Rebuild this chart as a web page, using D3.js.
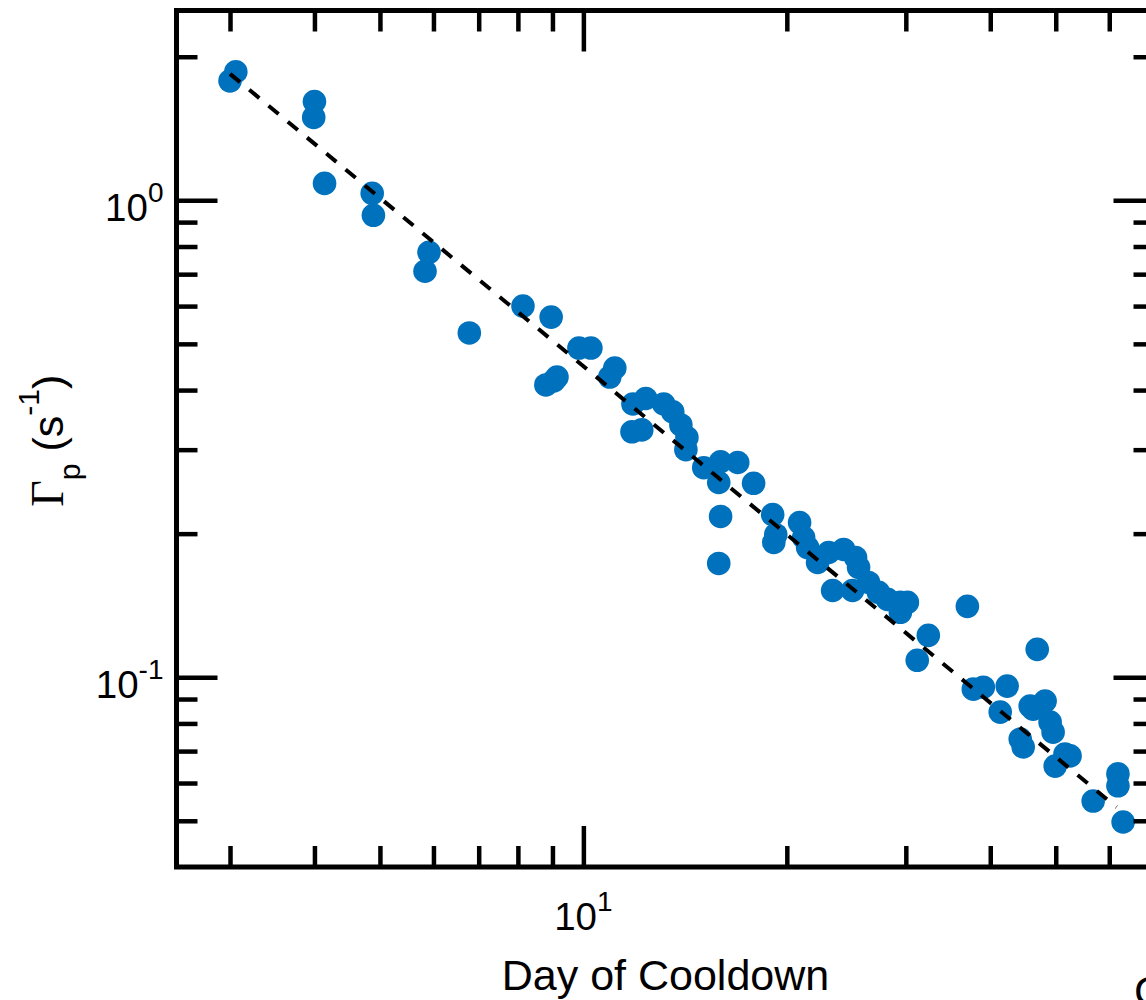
<!DOCTYPE html>
<html><head><meta charset="utf-8">
<script src="https://cdn.jsdelivr.net/npm/d3@7"></script>
<style>body{margin:0;background:#fff;} svg{display:block;}</style>
</head><body>
<script>
// ---- data ----
const days = [3.0, 3.06, 4.0, 3.99, 4.14, 4.87, 4.89, 5.91, 5.83, 6.78, 8.14, 8.96, 9.85, 10.26, 11.13, 10.94, 8.80, 9.14, 9.04, 11.84, 12.37, 11.8, 12.2, 13.15, 13.56, 13.94, 14.23, 14.18, 15.07, 15.96, 16.92, 15.86, 17.86, 15.96, 15.86, 19.06, 19.26, 19.13, 20.89, 21.18, 21.47, 22.21, 23.06, 24.27, 25.28, 25.54, 23.38, 25.02, 26.42, 27.33, 28.18, 29.45, 30.16, 29.45, 37.0, 32.39, 31.19, 46.94, 37.76, 39.06, 42.38, 41.38, 45.83, 48.22, 49.05, 49.55, 44.3, 44.75, 46.3, 51.6, 49.9, 52.5, 61.8, 61.8, 56.8, 62.9];
const gamma = [1.78, 1.86, 1.611, 1.492, 1.085, 1.034, 0.930, 0.778, 0.710, 0.527, 0.600, 0.569, 0.490, 0.490, 0.445, 0.426, 0.410, 0.426, 0.418, 0.374, 0.384, 0.327, 0.330, 0.374, 0.360, 0.338, 0.318, 0.300, 0.275, 0.283, 0.282, 0.256, 0.255, 0.2173, 0.1732, 0.2193, 0.199, 0.1916, 0.211, 0.1963, 0.187, 0.174, 0.1826, 0.1853, 0.1782, 0.1699, 0.152, 0.152, 0.158, 0.1506, 0.1456, 0.1435, 0.1435, 0.1368, 0.1408, 0.1224, 0.1085, 0.1144, 0.0944, 0.0953, 0.0958, 0.0845, 0.0870, 0.0891, 0.0805, 0.0767, 0.0742, 0.0714, 0.0857, 0.069, 0.0651, 0.0684, 0.0627, 0.0592, 0.055, 0.0497];
const fitDays = [3, 61.5];
const fitGamma = [1.841, 0.0534];
const xDomain = [2.5, 70];
const yDomain = [0.04, 2.5];
const xMajorTicks = [10];
const xMinorTicks = [3, 4, 5, 6, 7, 8, 9, 20, 30, 40, 50, 60];
const yMajorTicks = [0.1, 1];
const yMinorTicks = [0.05, 0.06, 0.07, 0.08, 0.09, 0.2, 0.3, 0.4, 0.5, 0.6, 0.7, 0.8, 0.9, 2];
const xTickBase = ["10"];
const xTickExp = ["1"];
const yTickBase = ["10", "10"];
const yTickExp = ["-1", "0"];
const xLabel = "Day of Cooldown";
const yLabelMain = "\u0393";
const yLabelSub = "p";
const yLabelUnit = " (s";
const yLabelUnitExp = "-1";
const yLabelClose = ")";
const cornerText = "C";

// ---- layout ----
const W = 1146, H = 1000;
const L = 176.5, R = 1154.5, T = 10.5, B = 867;
const blue = "#0072BD";
const sans = "'Liberation Sans', Arial, Helvetica, sans-serif";
const serif = "'Liberation Serif', 'Times New Roman', serif";

const svg = d3.select("body").append("svg").attr("width", W).attr("height", H);

const x = d3.scaleLog().domain(xDomain).range([L, R]);
const y = d3.scaleLog().domain(yDomain).range([B, T]);

// markers
svg.append("g").selectAll("circle").data(days.map((d, i) => [d, gamma[i]]))
  .join("circle")
  .attr("cx", d => x(d[0])).attr("cy", d => y(d[1])).attr("r", 11.8)
  .attr("fill", blue);

// fit line
const line = d3.line().x(d => x(d[0])).y(d => y(d[1]));
svg.append("path").datum(fitDays.map((d, i) => [d, fitGamma[i]]))
  .attr("d", line).attr("fill", "none").attr("stroke", "#000")
  .attr("stroke-width", 4).attr("stroke-dasharray", "13,12");

// ticks
function drawAxis(gen, tx, ty, vals, len) {
  const g = svg.append("g").attr("transform", `translate(${tx},${ty})`)
    .call(gen.tickValues(vals).tickSizeInner(-len).tickSizeOuter(0).tickFormat(""));
  g.select(".domain").remove();
  g.selectAll(".tick line").attr("stroke", "#000").attr("stroke-width", 4.5);
}
drawAxis(d3.axisLeft(y), L, 0, yMajorTicks, 41);
drawAxis(d3.axisLeft(y), L, 0, yMinorTicks, 21);
drawAxis(d3.axisRight(y), R, 0, yMajorTicks, 41);
drawAxis(d3.axisRight(y), R, 0, yMinorTicks, 21);
drawAxis(d3.axisBottom(x), 0, B, xMajorTicks, 41);
drawAxis(d3.axisBottom(x), 0, B, xMinorTicks, 21);
drawAxis(d3.axisTop(x), 0, T, xMajorTicks, 41);
drawAxis(d3.axisTop(x), 0, T, xMinorTicks, 21);

// frame
svg.append("rect").attr("x", L).attr("y", T).attr("width", R - L).attr("height", B - T)
  .attr("fill", "none").attr("stroke", "#000").attr("stroke-width", 5);

// y tick labels
yMajorTicks.forEach((v, i) => {
  const t = svg.append("text").attr("x", L - 13).attr("y", y(v) + 21)
    .attr("text-anchor", "end").attr("font-family", sans).attr("fill", "#000");
  t.append("tspan").attr("font-size", 38.5).text(yTickBase[i]);
  t.append("tspan").attr("font-size", 28).attr("dy", -19).text(yTickExp[i]);
});
// x tick labels
xMajorTicks.forEach((v, i) => {
  const t = svg.append("text").attr("x", x(v)).attr("y", B + 63)
    .attr("text-anchor", "middle").attr("font-family", sans).attr("fill", "#000");
  t.append("tspan").attr("font-size", 38.5).text(xTickBase[i]);
  t.append("tspan").attr("font-size", 28).attr("dy", -19).text(xTickExp[i]);
});

// x label
svg.append("text").attr("x", (L + R) / 2).attr("y", 990).attr("text-anchor", "middle")
  .attr("font-family", sans).attr("font-size", 43).attr("fill", "#000").text(xLabel);

// y label
const yl = svg.append("text").attr("transform", `translate(63,${(T + B) / 2 + 2}) rotate(-90)`)
  .attr("text-anchor", "middle").attr("font-family", sans).attr("font-size", 43).attr("fill", "#000");
yl.append("tspan").attr("font-family", serif).attr("font-size", 46).text(yLabelMain);
yl.append("tspan").attr("font-size", 30).attr("dy", 17).text(yLabelSub);
yl.append("tspan").attr("dy", -17).text(yLabelUnit);
yl.append("tspan").attr("font-size", 30).attr("dy", -24).text(yLabelUnitExp);
yl.append("tspan").attr("dy", 24).text(yLabelClose);

// partial panel text at bottom right (cut by the edge, as in the reference)
svg.append("text").attr("x", 1134).attr("y", 1006).attr("font-family", sans)
  .attr("font-size", 43).attr("fill", "#000").text(cornerText);
</script>
</body></html>
